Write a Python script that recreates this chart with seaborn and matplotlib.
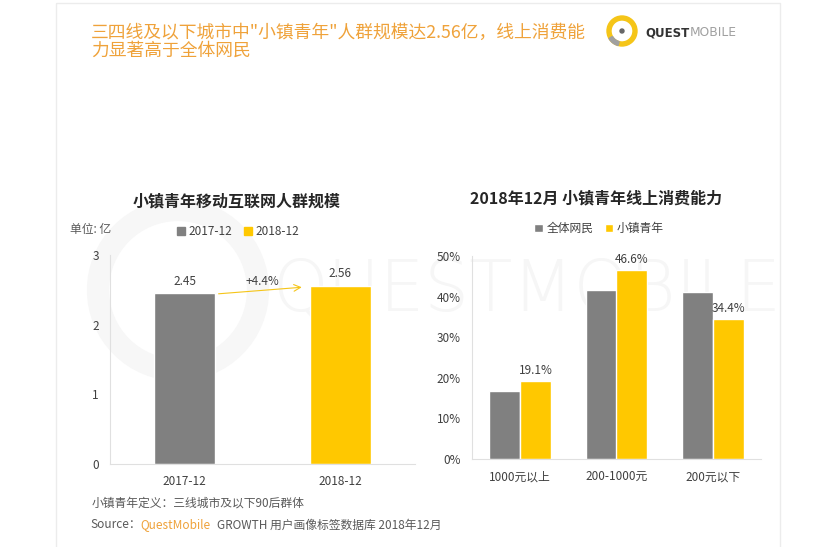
import pandas as pd
import seaborn as sns
import matplotlib.pyplot as plt
from matplotlib.patches import Rectangle, Wedge, Circle, Patch

sns.set_theme(style="white")
plt.rcParams['font.family'] = ['Noto Sans CJK SC', 'DejaVu Sans']

# data
periods = ['2017-12', '2018-12']
users = [2.45, 2.56]

spend_cats = ['1000元以上', '200-1000元', '200元以下']
all_users = [16.7, 41.6, 41.1]
town_youth = [19.1, 46.6, 34.4]
groups = ['全体网民', '小镇青年']

GRAY = '#808080'
YELLOW = '#FFC800'
ORANGE = '#EFA23A'
TXT = '#404040'

W, H = 837, 547
fig = plt.figure(figsize=(W / 100, H / 100), dpi=100)


def fx(px):
    return px / W


def fy(py):
    return 1 - py / H


# background layer in pixel coordinates
bg = fig.add_axes([0, 0, 1, 1], zorder=-10)
bg.set_xlim(0, W)
bg.set_ylim(H, 0)
bg.axis('off')

bg.add_patch(Rectangle((56, 3), 724, 560, fill=False, edgecolor='#ececec', lw=1))

# watermark
bg.add_patch(Circle((178, 290), 80, fill=False, edgecolor='#f7f7f7', lw=16))
bg.text(272, 292, 'QUESTMOBILE', fontsize=51, color='#f6f6f6', va='center',
        ha='left', family='DejaVu Sans', fontweight='light')

# logo
bg.add_patch(Wedge((622, 31), 15, 0, 360, width=4, color='#F5C518'))
bg.add_patch(Wedge((622, 31), 15, 105, 150, width=4, color='#a0a0a0'))
bg.add_patch(Circle((622, 31), 2, color='#666666'))
bg.text(645, 33, 'QUEST', fontsize=8.5, fontweight='bold', color='#333333',
        va='center', family='DejaVu Sans')
bg.text(690, 33, 'MOBILE', fontsize=8.8, color='#a0a0a0', va='center',
        family='DejaVu Sans')

# headline
bg.text(91, 33, '三四线及以下城市中"小镇青年"人群规模达2.56亿，线上消费能',
        fontsize=12.8, color=ORANGE, va='center')
bg.text(91, 51, '力显著高于全体网民', fontsize=12.8, color=ORANGE, va='center')

# ---- left chart
ax1 = fig.add_axes([fx(110), fy(464), fx(415) - fx(110), fy(255) - fy(464)])
ax1.set_facecolor('none')
df1 = pd.DataFrame({'period': periods, 'users': users})
sns.barplot(data=df1, x='period', y='users', hue='period', saturation=1,
            palette=[GRAY, YELLOW], width=0.39, legend=False, ax=ax1)
ax1.set_ylim(0, 3)
ax1.set_xlim(-0.48, 1.48)
ax1.set_yticks([0, 1, 2, 3])
ax1.set_xlabel('')
ax1.set_ylabel('')
for i, v in enumerate(users):
    ax1.text(i, v + 0.08, f'{v:.2f}', ha='center', va='bottom', fontsize=8.5, color=TXT)
ax1.annotate('', xy=(0.77, 2.54), xytext=(0.2, 2.44),
             arrowprops=dict(arrowstyle='->', color='#F5C518', lw=0.8))
ax1.text(0.5, 2.62, '+4.4%', ha='center', va='center', fontsize=8.5, color=TXT)
ax1.set_title('小镇青年移动互联网人群规模', fontsize=11.5, fontweight='bold',
              color='#262626', pad=35, x=0.416)
bg.text(70, 229, '单位: 亿', fontsize=8.5, color='#595959', va='center')
ax1.legend(handles=[Patch(color=GRAY, label=periods[0]), Patch(color=YELLOW, label=periods[1])],
           loc='lower center', bbox_to_anchor=(0.42, 1.03), ncol=2, frameon=False,
           fontsize=8.5, handlelength=0.7, handleheight=0.7, handletextpad=0.3,
           columnspacing=1.0, labelcolor='#404040')

# ---- right chart
ax2 = fig.add_axes([fx(472), fy(459), fx(761) - fx(472), fy(256) - fy(459)])
ax2.set_facecolor('none')
df2 = pd.DataFrame({
    'cat': spend_cats * 2,
    'group': [groups[0]] * 3 + [groups[1]] * 3,
    'val': all_users + town_youth,
})
sns.barplot(data=df2, x='cat', y='val', hue='group', palette=[GRAY, YELLOW],
            saturation=1, width=0.64, ax=ax2)
ax2.set_ylim(0, 50)
ax2.set_xlim(-0.5, 2.5)
ax2.set_yticks(range(0, 51, 10))
ax2.set_yticklabels([f'{v}%' for v in range(0, 51, 10)])
ax2.set_xlabel('')
ax2.set_ylabel('')
for i, v in enumerate(town_youth):
    ax2.text(i + 0.16, v + 1.0, f'{v}%', ha='center', va='bottom', fontsize=8.5, color=TXT)
ax2.set_title('2018年12月 小镇青年线上消费能力', fontsize=11.5, fontweight='bold',
              color='#262626', pad=38, x=0.43)
ax2.legend(loc='lower center', bbox_to_anchor=(0.44, 1.05), ncol=2, frameon=False,
           fontsize=8.5, handlelength=0.7, handleheight=0.7, handletextpad=0.3,
           columnspacing=1.0, labelcolor='#404040')

for ax in (ax1, ax2):
    sns.despine(ax=ax, top=True, right=True)
    for s in ('left', 'bottom'):
        ax.spines[s].set_color('#e0e0e0')
        ax.spines[s].set_linewidth(0.8)
    ax.tick_params(axis='both', length=0, labelsize=8.5, colors='#404040', pad=8)
    ax.grid(False)

# footer
bg.text(92, 503, '小镇青年定义：三线城市及以下90后群体', fontsize=8.5,
        color='#595959', va='center')
bg.text(90, 525, 'Source：', fontsize=8.5, color='#595959', va='center')
bg.text(140, 525, 'QuestMobile', fontsize=8.5, color=ORANGE, va='center')
bg.text(217, 525, 'GROWTH 用户画像标签数据库 2018年12月', fontsize=8.5,
        color='#595959', va='center')

fig.savefig('out.png', dpi=100)
